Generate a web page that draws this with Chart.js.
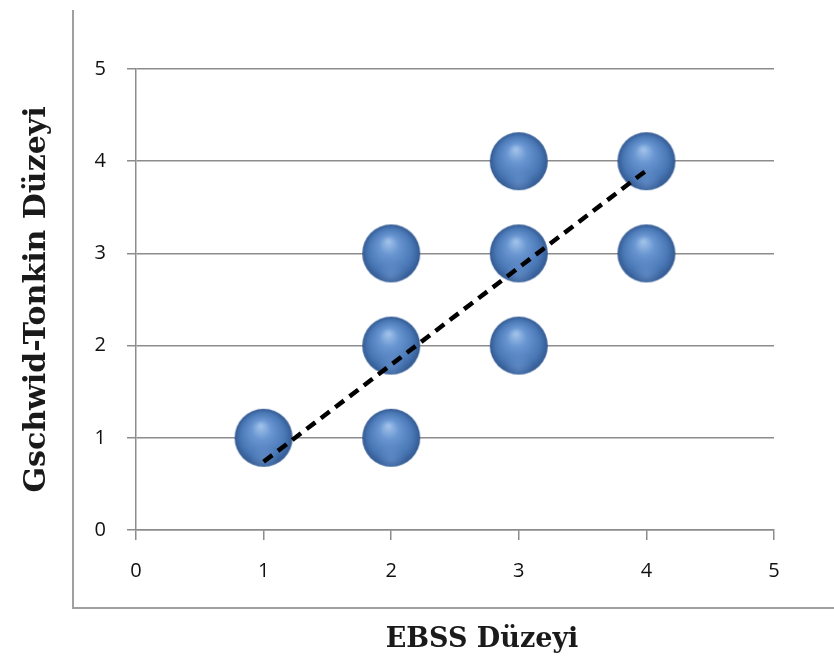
<!DOCTYPE html>
<html>
<head>
<meta charset="utf-8">
<script src="https://cdn.jsdelivr.net/npm/chart.js@4/dist/chart.umd.min.js"></script>
<style>
    html, body { margin: 0; padding: 0; background: #fff; }
    #ebssChart { display: block; }
</style>
</head>
<body>
<canvas id="ebssChart" width="834" height="659"></canvas>
<script>
// observed levels (x = EBSS, y = Gschwid-Tonkin)
const ebssLevels = [1, 2, 2, 2, 3, 3, 3, 4, 4];
const gtLevels   = [1, 1, 2, 3, 2, 3, 4, 3, 4];

// dashed trend line end points
const trendX = [1, 4];
const trendY = [0.74, 3.9];

const axisTicks = [0, 1, 2, 3, 4, 5];
const xTitle = 'EBSS Düzeyi';
const yTitle = 'Gschwid-Tonkin Düzeyi';

const gridGrey = '#8c8c8c';
const tickFont = {family: '"Open Sans", Lato, sans-serif', size: 20};

// glossy blue ball used as point style
function makeSphere(d) {
    let c = document.createElement('canvas');
    c.width = d + 4;
    c.height = d + 4;
    let g = c.getContext('2d');
    let cx = c.width / 2, cy = c.height / 2, r = d / 2;
    let grad = g.createRadialGradient(cx - r * 0.1, cy - r * 0.4, r * 0.05, cx, cy, r);
    grad.addColorStop(0, '#9dbfe8');
    grad.addColorStop(0.3, '#6a97d2');
    grad.addColorStop(0.75, '#4a78b6');
    grad.addColorStop(1, '#335a92');
    g.beginPath();
    g.arc(cx, cy, r, 0, Math.PI * 2);
    g.fillStyle = grad;
    g.fill();
    // faint reflection at the bottom
    let low = g.createRadialGradient(cx, cy + r * 0.75, 1, cx, cy + r * 0.75, r * 0.5);
    low.addColorStop(0, 'rgba(120,160,215,0.4)');
    low.addColorStop(1, 'rgba(120,160,215,0)');
    g.fillStyle = low;
    g.beginPath();
    g.arc(cx, cy, r, 0, Math.PI * 2);
    g.fill();
    return c;
}

// outer frame + x caption
const framePlugin = {
    id: 'frame',
    beforeDraw(chart) {
        let ctx = chart.ctx;
        ctx.save();
        ctx.strokeStyle = '#a0a0a0';
        ctx.lineWidth = 2;
        ctx.beginPath();
        ctx.moveTo(73, 10);
        ctx.lineTo(73, 608);
        ctx.lineTo(834, 608);
        ctx.stroke();
        ctx.restore();
    },
    afterDraw(chart) {
        let ctx = chart.ctx;
        ctx.save();
        ctx.font = 'bold 27px "DejaVu Serif", serif';
        ctx.fillStyle = '#1a1a1a';
        ctx.textAlign = 'center';
        ctx.textBaseline = 'middle';
        ctx.fillText(xTitle, 482, 640);
        ctx.restore();
    }
};

let points = ebssLevels.map((x, i) => ({x: x, y: gtLevels[i]}));
let trend = trendX.map((x, i) => ({x: x, y: trendY[i]}));

new Chart(document.getElementById('ebssChart'), {
    type: 'scatter',
    data: {
        datasets: [
            {
                type: 'line',
                data: trend,
                borderColor: '#000',
                borderWidth: 4.5,
                borderDash: [11, 7],
                pointRadius: 0,
                fill: false,
                order: 0
            },
            {
                data: points,
                pointStyle: makeSphere(58),
                order: 1
            }
        ]
    },
    options: {
        responsive: false,
        animation: false,
        layout: {padding: {left: 0, right: 60, top: 69, bottom: 0}},
        plugins: {
            legend: {display: false},
            tooltip: {enabled: false}
        },
        scales: {
            x: {
                type: 'linear',
                min: 0,
                max: 5,
                afterBuildTicks: (s) => { s.ticks = axisTicks.map(v => ({value: v})); },
                afterFit: (s) => { s.height = 129; },
                grid: {drawOnChartArea: false, drawTicks: true, tickLength: 10, color: gridGrey, lineWidth: 1.5},
                border: {display: true, color: gridGrey, width: 1.5},
                ticks: {color: '#111', font: tickFont, padding: 19, maxRotation: 0}
            },
            y: {
                type: 'linear',
                min: 0,
                max: 5,
                afterBuildTicks: (s) => { s.ticks = axisTicks.map(v => ({value: v})); },
                afterFit: (s) => { s.width = 136; },
                grid: {drawTicks: true, tickLength: 9, color: gridGrey, lineWidth: 1.5},
                border: {display: true, color: gridGrey, width: 1.5},
                ticks: {color: '#111', font: tickFont, padding: 21},
                title: {
                    display: true,
                    text: yTitle,
                    color: '#1a1a1a',
                    font: {family: '"DejaVu Serif", serif', size: 30, weight: 'bold'},
                    padding: {top: 19, bottom: 0}
                }
            }
        }
    },
    plugins: [framePlugin]
});
</script>
</body>
</html>
